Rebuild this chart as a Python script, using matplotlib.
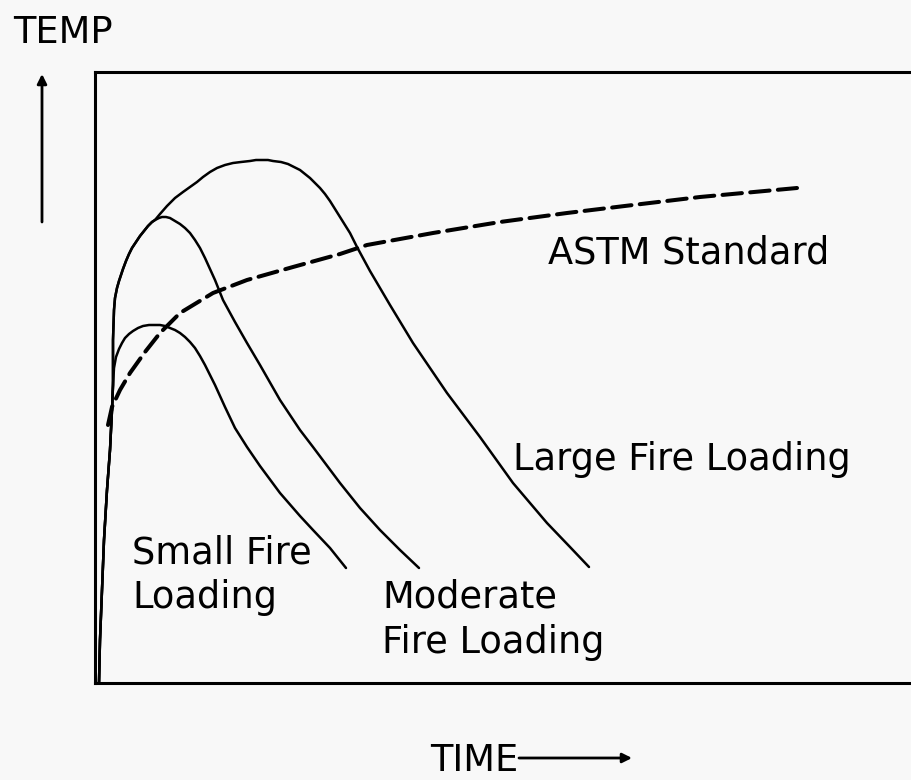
import matplotlib
matplotlib.use("Agg")
import matplotlib.pyplot as plt

# ---- data (time, temperature in arbitrary schematic units) ----
rise_t = [4, 5, 7, 9, 12, 15, 17, 18]
rise_T = [0, 43, 93, 143, 193, 233, 273, 298]

small_t = rise_t + [19, 21, 24, 27, 30, 34, 38, 43, 48, 54, 60, 65, 70, 75, 80, 85, 90, 95, 100, 105, 110,
                    115, 120, 125, 130, 140, 152, 165, 185, 205, 218, 235, 251]
small_T = rise_T + [315, 326, 334, 340, 345, 349, 352, 355, 357, 358, 358, 358, 357, 355, 353, 350, 346, 341, 335, 327, 318,
                    308, 298, 287, 276, 255, 236, 217, 190, 167, 153, 135, 115]

moderate_t = rise_t + [18, 19, 20, 22, 24, 26, 28, 31, 34, 37, 41, 45, 49, 53, 57, 60, 64, 67, 71, 75, 80, 85, 90, 95,
                       100, 105, 110, 115, 120, 128, 140, 152, 165, 185, 205, 218, 245, 265, 285, 305, 324]
moderate_T = rise_T + [343, 373, 385, 395, 402, 408, 414, 422, 429, 435, 441, 447, 452, 457, 461, 463, 465, 466, 466, 465, 462,
                       459, 455, 450, 443, 435, 425, 414, 403, 383, 361, 340, 318, 283, 253, 236, 200, 175, 153, 133, 115]

large_t = rise_t + [18, 19, 20, 22, 24, 26, 28, 31, 34, 37, 41, 45, 49, 53, 57, 60, 65, 72, 80, 88, 95, 102, 108, 115,
                    122, 130, 138, 146, 155, 161, 167, 173, 178, 186, 193, 199, 205, 210, 215, 220, 225, 230, 235,
                    240, 245, 250, 255, 262, 275, 285, 295, 318, 352, 385, 418, 452, 475, 494]
large_T = rise_T + [343, 373, 385, 395, 402, 408, 414, 422, 429, 435, 441, 447, 452, 457, 461, 463, 469, 477, 485, 491, 496,
                    501, 506, 511, 515, 518, 520, 521, 522, 523, 523, 523, 522, 521, 519, 516, 513, 509, 505, 500,
                    495, 489, 482, 474, 466, 458, 450, 436, 412, 395, 378, 340, 290, 246, 200, 160, 136, 116]

astm_t = [13, 17, 25, 35, 50, 65, 85, 118, 152, 198, 245, 272, 338, 405, 472, 538, 605, 702]
astm_T = [258, 276, 293, 310, 331, 350, 370, 390, 403, 416, 429, 438, 450, 461, 470, 478, 486, 495]

label_astm = "ASTM Standard"
label_large = "Large Fire Loading"
label_small = ["Small Fire", "Loading"]
label_moderate = ["Moderate", "Fire Loading"]
x_label = "TIME"
y_label = "TEMP"

# ---- figure ----
W, H = 912, 780
bg = "#f8f8f8"
plt.rcParams['font.family'] = ['DejaVu Sans']
plt.rcParams['lines.scale_dashes'] = False
fig = plt.figure(figsize=(W / 100, H / 100), dpi=100, facecolor=bg)

left_px, right_px, top_px, bottom_px = 95, 940, 72, 683
ax = fig.add_axes([left_px / W, 1 - bottom_px / H,
                   (right_px - left_px) / W, (bottom_px - top_px) / H])
ax.set_facecolor(bg)
ax.set_xlim(0, right_px - left_px)
ax.set_ylim(0, bottom_px - top_px)
ax.set_xticks([])
ax.set_yticks([])
for s in ax.spines.values():
    s.set_linewidth(2.2)
    s.set_color("black")

lw = 1.8
style = dict(color="black", lw=lw, solid_capstyle="round", solid_joinstyle="round")
ax.plot(small_t, small_T, **style)
ax.plot(moderate_t, moderate_T, **style)
ax.plot(large_t, large_T, **style)
ax.plot(astm_t, astm_T, color="black", lw=2.9, dashes=(14, 6), dash_capstyle="round")

fs = 26.5
ax.text(453, 420, label_astm, fontsize=fs, va="baseline", ha="left")
ax.text(418, 213, label_large, fontsize=fs, va="baseline", ha="left")
ax.text(37, 120, label_small[0], fontsize=fs, va="baseline", ha="left")
ax.text(37, 75, label_small[1], fontsize=fs, va="baseline", ha="left")
ax.text(287, 75, label_moderate[0], fontsize=fs, va="baseline", ha="left")
ax.text(287, 30, label_moderate[1], fontsize=fs, va="baseline", ha="left")

# axis labels with arrows (figure pixel coords)
fig.text(13 / W, 1 - 43 / H, y_label, fontsize=fs, va="baseline", ha="left")
fig.text(430 / W, 1 - 771 / H, x_label, fontsize=fs, va="baseline", ha="left")

arrow = dict(arrowstyle="-|>", color="black", lw=2.0, mutation_scale=14, shrinkA=0, shrinkB=0)
ax.annotate("", xy=(42 / W, 1 - 74 / H), xytext=(42 / W, 1 - 222 / H),
            xycoords="figure fraction", textcoords="figure fraction", arrowprops=arrow,
            annotation_clip=False)
ax.annotate("", xy=(632 / W, 1 - 758 / H), xytext=(519 / W, 1 - 758 / H),
            xycoords="figure fraction", textcoords="figure fraction", arrowprops=arrow,
            annotation_clip=False)

fig.savefig("out.png", dpi=100, facecolor=bg)
